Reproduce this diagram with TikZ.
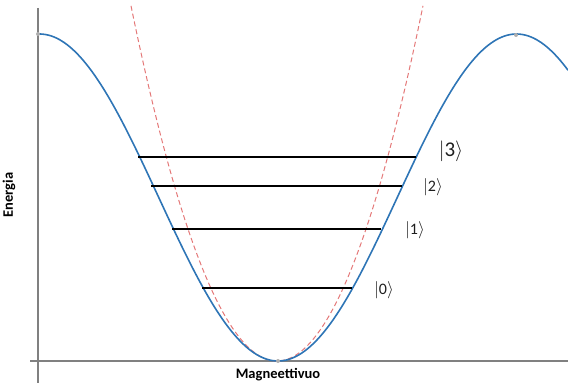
\documentclass[tikz,border=0pt]{standalone}
\usepackage{fontspec}
\setmainfont{Carlito}
\begin{document}
\begin{tikzpicture}[x=1pt,y=-1pt,
  axisline/.style={draw=axisgray,line width=1.2pt},
  potential/.style={draw=curveblue,line width=1.6pt},
  harmonic/.style={draw=dashred,line width=1pt,dash pattern=on 5pt off 3pt},
  level/.style={draw=black,line width=1.6pt},
  ket/.style={text=ketgray,inner sep=0pt,font=\fontsize{16}{18}\selectfont},
  axislabel/.style={font=\bfseries\fontsize{14.5}{16}\selectfont,inner sep=0pt},
  dot/.style={circle,fill=dotgray,inner sep=0pt,minimum size=4pt}]
\definecolor{axisgray}{RGB}{128,128,128}
\definecolor{curveblue}{RGB}{46,117,182}
\definecolor{dashred}{RGB}{228,120,120}
\definecolor{ketgray}{RGB}{30,30,30}
\definecolor{dotgray}{RGB}{175,175,175}
\useasboundingbox (0,0) rectangle (568,385);
% axes
\coordinate (ytop) at (38,8);
\coordinate (ybot) at (38,383);
\coordinate (xl) at (30,361);
\coordinate (xr) at (568,361);
\draw[axisline] (ytop) -- (ybot);
\draw[axisline] (xl) -- (xr);
% harmonic approximation
\draw[harmonic] plot[domain=131:423,samples=120,smooth] (\x,{361-0.01667*(\x-277)*(\x-277)});
% potential
\draw[potential] plot[domain=38:568,samples=200,smooth] (\x,{197.5+163.5*cos(0.75472*(\x-278))});
% dots
\node[dot] (d1) at (38,34) {};
\node[dot] (d2) at (516,35) {};
\node[dot] (d3) at (278,361) {};
% levels
\coordinate (l3a) at (138,157); \coordinate (l3b) at (416,157);
\coordinate (l2a) at (151,186); \coordinate (l2b) at (402,186);
\coordinate (l1a) at (172,229); \coordinate (l1b) at (381,229);
\coordinate (l0a) at (202,288); \coordinate (l0b) at (352,288);
\draw[level] (l3a) -- (l3b);
\draw[level] (l2a) -- (l2b);
\draw[level] (l1a) -- (l1b);
\draw[level] (l0a) -- (l0b);
% kets
\node[ket,font=\fontsize{21}{23}\selectfont] (k3) at (451,151) {$|$3$\rangle$};
\node[ket] (k2) at (433,187) {$|$2$\rangle$};
\node[ket] (k1) at (415,230) {$|$1$\rangle$};
\node[ket] (k0) at (384,290) {$|$0$\rangle$};
% axis labels
\node[axislabel,rotate=90] (elab) at (9,195) {Energia};
\node[axislabel] (mlab) at (278,375) {Magneettivuo};
\end{tikzpicture}
\end{document}
